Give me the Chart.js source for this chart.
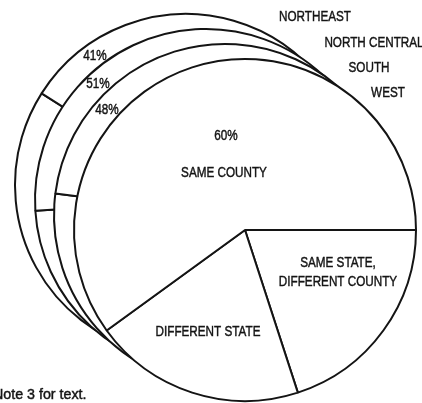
<!DOCTYPE html>
<html lang="en">
<head>
  <meta charset="UTF-8">
  <title>Mobility by region</title>
  <script src="https://cdn.jsdelivr.net/npm/chart.js@4.4.1/dist/chart.umd.min.js"></script>
  <style>
    html, body { margin: 0; padding: 0; background: #fff; }
    #wrap { position: relative; width: 422px; height: 403px; overflow: hidden; }
    #wrap canvas { position: absolute; left: 0; top: 0; }
  </style>
</head>
<body>
  <div id="wrap"></div>

  <script>
    // Data (back pie first, front pie last)
    const regions = ['NORTHEAST', 'NORTH CENTRAL', 'SOUTH', 'WEST'];
    const sameCounty = [41, 51, 48, 60];
    // only the front (West) pie shows its other two slices
    const sameStateDiffCounty = [null, null, null, 20];
    const differentState = [null, null, null, 20];

    // Layout: padding that places each pie (back pies shifted up-left)
    const pads = [
      { left: 14, right: 64, top: 13, bottom: 46 },
      { left: 34, right: 44, top: 28, bottom: 31 },
      { left: 53, right: 25, top: 43, bottom: 16 },
      { left: 73, right: 5, top: 58, bottom: 1 }
    ];
    // percent label offset from each pie center
    const pctOffsets = [[-91, -129], [-108, -116], [-118, -105], [-19, -94]];
    // region names, top right
    const regionLabelPos = [[315, 17], [374, 43], [369, 68], [388, 93]];

    const FONT = '"Liberation Sans", Arial, sans-serif';
    const INK = '#141414';

    // narrow gothic look: regular sans squeezed horizontally, slightly heavy
    function text(ctx, str, x, y, size, align, squeeze) {
      ctx.save();
      ctx.font = size + 'px ' + FONT;
      ctx.fillStyle = INK;
      ctx.strokeStyle = INK;
      ctx.lineWidth = 0.45;
      ctx.textAlign = align || 'center';
      ctx.textBaseline = 'middle';
      ctx.translate(x, y);
      ctx.scale(squeeze || 0.78, 1);
      ctx.fillText(str, 0, 0);
      ctx.strokeText(str, 0, 0);
      ctx.restore();
    }

    const wrap = document.getElementById('wrap');

    regions.forEach((region, i) => {
      const canvas = document.createElement('canvas');
      canvas.width = 422;
      canvas.height = 403;
      canvas.style.width = '422px';
      canvas.style.height = '403px';
      wrap.appendChild(canvas);

      const known = sameStateDiffCounty[i] !== null;
      const data = known
        ? [sameStateDiffCounty[i], differentState[i], sameCounty[i]]
        : [100 - sameCounty[i], sameCounty[i]];
      const isFront = i === regions.length - 1;

      new Chart(canvas, {
        type: 'pie',
        data: {
          labels: known ? ['Same state, different county', 'Different state', 'Same county'] : ['Moved out of county', 'Same county'],
          datasets: [{
            data: data,
            backgroundColor: '#ffffff',
            borderColor: INK,
            borderWidth: 2
          }]
        },
        options: {
          responsive: false,
          animation: false,
          devicePixelRatio: 1,
          rotation: 90,
          layout: { padding: pads[i] },
          plugins: { legend: { display: false }, tooltip: { enabled: false } }
        },
        plugins: [{
          id: 'labels' + i,
          afterDraw(chart) {
            const ctx = chart.ctx;
            const arc = chart.getDatasetMeta(0).data[0];
            const cx = arc.x, cy = arc.y;
            text(ctx, sameCounty[i] + '%', cx + pctOffsets[i][0], cy + pctOffsets[i][1], 15);
            if (isFront) {
              text(ctx, 'SAME COUNTY', cx - 21, cy - 57, 15);
              text(ctx, 'SAME STATE,', cx + 93, cy + 33, 15);
              text(ctx, 'DIFFERENT COUNTY', cx + 93, cy + 52, 15);
              text(ctx, 'DIFFERENT STATE', cx - 37, cy + 102, 15);
              regions.forEach((r, k) => text(ctx, r, regionLabelPos[k][0], regionLabelPos[k][1], 15));
              text(ctx, 'Note 3 for text.', -7, 395, 15, 'left', 0.95);
            }
          }
        }]
      });
    });
  </script>
</body>
</html>
